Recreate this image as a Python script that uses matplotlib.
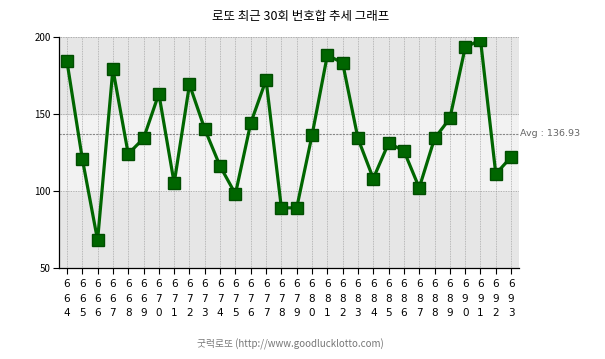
import numpy as np
import matplotlib
matplotlib.use('Agg')
from matplotlib import pyplot as plt

plt.rcParams['font.family'] = ['Noto Sans CJK KR', 'DejaVu Sans']

rounds = list(range(664, 694))
sums = [184, 121, 68, 179, 124, 134, 163, 105, 169, 140,
        116, 98, 144, 172, 89, 89, 136, 188, 183, 134,
        108, 131, 126, 102, 134, 147, 193, 198, 111, 122]
avg = np.mean(sums)

fig = plt.figure(figsize=(6.05, 3.59), dpi=100)
ax = fig.add_axes([0.0975, 0.2535, 0.7605, 0.6443])

x = np.arange(len(rounds))
ax.set_xlim(-0.52, len(rounds) - 1 + 0.52)
ax.set_ylim(50, 200)

# background bands
ax.axhspan(50, 100, color='#e6e6e6', zorder=0)
ax.axhspan(100, 150, color='#f2f2f2', zorder=0)
ax.axhspan(150, 200, color='#e6e6e6', zorder=0)

for xi in x:
    ax.axvline(xi, color='#aaaaaa', linestyle=(0, (1, 1)), linewidth=0.6, zorder=1)
for yv in (100, 150, 200):
    ax.axhline(yv, color='#999999', linestyle=(0, (1, 1)), linewidth=0.6, zorder=1)
ax.axvline(len(rounds) - 1 + 0.52, color='#999999', linestyle=(0, (1, 1)), linewidth=0.6, zorder=1)

ax.axhline(avg, color='#888888', linestyle=(0, (2, 1)), linewidth=0.8, zorder=1)
ax.text(len(rounds) - 1 + 0.6, avg, f'Avg : {avg:.2f}', fontsize=6.8, color='#666666',
        va='center', ha='left', family=['DejaVu Sans'])

ax.plot(x, sums, color='#006600', linewidth=2.3, marker='s', markersize=8,
        markerfacecolor='#006600', markeredgecolor='#004d00', zorder=3)

ax.set_yticks([50, 100, 150, 200])
ax.set_yticklabels(['50', '100', '150', '200'], fontsize=7)
ax.set_xticks(x)
ax.set_xticklabels(['\n'.join(str(r)) for r in rounds], fontsize=7.5, linespacing=1.55,
                   family=['DejaVu Sans'])
ax.tick_params(axis='both', direction='out', length=4, width=0.8, pad=2)
ax.tick_params(axis='x', pad=4)
for s in ('top', 'right'):
    ax.spines[s].set_visible(False)
ax.spines['left'].set_linewidth(0.9)
ax.spines['bottom'].set_linewidth(0.9)

fig.text(0.497, 0.955, '로또 최근 30회 번호합 추세 그래프', ha='center', va='center', fontsize=9)
fig.text(0.48, 0.042, '굿럭로또 (http://www.goodlucklotto.com)', ha='center', va='center',
         fontsize=7, color='#777777')

fig.savefig('out.png', dpi=100)
